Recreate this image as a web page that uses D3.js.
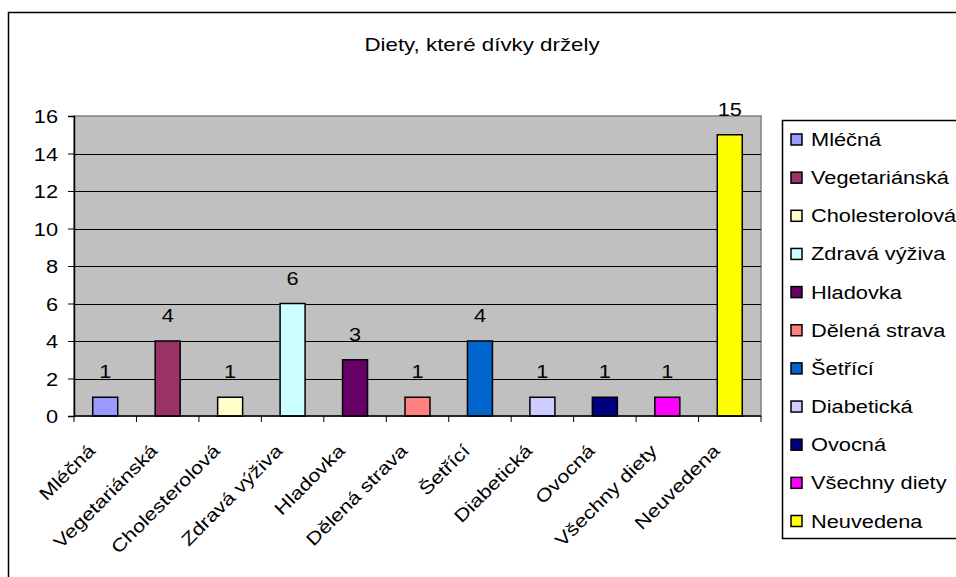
<!doctype html>
<html lang="cs">
<head>
    <meta charset="utf-8">
    <title>Diety</title>
    <script src="https://d3js.org/d3.v7.min.js"></script>
    <style>
        body { margin: 0; background: #fff; }
        text { font-family: "Liberation Sans", Arial, sans-serif; fill: #000; font-size: 18px; }
    </style>
</head>
<body>
<div id="chart"></div>
<script>
    // data
    var categories = ["Mléčná", "Vegetariánská", "Cholesterolová", "Zdravá výživa", "Hladovka",
        "Dělená strava", "Šetřící", "Diabetická", "Ovocná", "Všechny diety", "Neuvedena"];
    var values = [1, 4, 1, 6, 3, 1, 4, 1, 1, 1, 15];
    var colors = ["#9999ff", "#993366", "#ffffcc", "#ccffff", "#660066",
        "#ff8080", "#0066cc", "#ccccff", "#000080", "#ff00ff", "#ffff00"];
    var yTicks = [0, 2, 4, 6, 8, 10, 12, 14, 16];

    var width = 956, height = 577;
    var plot = { left: 74, top: 116, right: 761, bottom: 416 };
    var sx = 1.21; // text in the original is a bit wider than Arial

    var svg = d3.select("#chart").append("svg")
        .attr("width", width)
        .attr("height", height);

    // outer frame (right and bottom edges are outside the window)
    svg.append("rect")
        .attr("x", 8.5).attr("y", 12.5)
        .attr("width", 960).attr("height", 600)
        .attr("fill", "#fff").attr("stroke", "#000").attr("stroke-width", 1.5);

    svg.append("text")
        .attr("transform", "translate(482,51) scale(1.24,1)")
        .attr("text-anchor", "middle")
        .text("Diety, které dívky držely");

    var x = d3.scaleBand()
        .domain(categories)
        .range([plot.left, plot.right])
        .paddingInner(0).paddingOuter(0);

    var y = d3.scaleLinear()
        .domain([0, 16])
        .range([plot.bottom, plot.top]);

    // plot area
    svg.append("rect")
        .attr("x", plot.left).attr("y", plot.top)
        .attr("width", plot.right - plot.left).attr("height", plot.bottom - plot.top)
        .attr("fill", "#c0c0c0").attr("stroke", "#808080").attr("stroke-width", 1.5);

    // gridlines
    svg.append("g")
        .selectAll("line")
        .data(yTicks.filter(function (d) { return d > 0 && d < 16; }))
        .enter().append("line")
        .attr("x1", plot.left).attr("x2", plot.right)
        .attr("y1", function (d) { return Math.round(y(d)) + 0.5; })
        .attr("y2", function (d) { return Math.round(y(d)) + 0.5; })
        .attr("stroke", "#000").attr("stroke-width", 1);

    // bars
    var bw = x.bandwidth() / 2.5;
    svg.append("g")
        .selectAll("rect")
        .data(categories)
        .enter().append("rect")
        .attr("x", function (d) { return x(d) + (x.bandwidth() - bw) / 2; })
        .attr("y", function (d, i) { return y(values[i]); })
        .attr("width", bw)
        .attr("height", function (d, i) { return y(0) - y(values[i]); })
        .attr("fill", function (d, i) { return colors[i]; })
        .attr("stroke", "#000").attr("stroke-width", 1.5);

    // value labels
    svg.append("g")
        .selectAll("text")
        .data(categories)
        .enter().append("text")
        .attr("transform", function (d, i) {
            return "translate(" + (x(d) + x.bandwidth() / 2) + "," + (y(values[i]) - 19) + ") scale(" + sx + ",1)";
        })
        .attr("text-anchor", "middle")
        .text(function (d, i) { return values[i]; });

    // y axis
    var yAxis = svg.append("g")
        .attr("transform", "translate(" + plot.left + ",0)")
        .call(d3.axisLeft(y).tickValues(yTicks).tickSize(6));
    yAxis.select(".domain").attr("stroke", "#000").attr("stroke-width", 1.5);
    yAxis.selectAll(".tick line").attr("stroke", "#000");
    yAxis.selectAll(".tick text")
        .attr("x", null).attr("dy", null)
        .attr("transform", "translate(-16,6.5) scale(" + sx + ",1)")
        .style("font-size", "18px")
        .style("font-family", "Liberation Sans, Arial, sans-serif");

    // x axis: ticks at band boundaries
    var xAxis = svg.append("g")
        .attr("transform", "translate(0," + plot.bottom + ")");
    xAxis.append("line")
        .attr("x1", plot.left).attr("x2", plot.right)
        .attr("stroke", "#000").attr("stroke-width", 1.5);
    xAxis.selectAll(".tk")
        .data(categories.concat(["end"]))
        .enter().append("line")
        .attr("class", "tk")
        .attr("x1", function (d, i) { return plot.left + i * x.bandwidth(); })
        .attr("x2", function (d, i) { return plot.left + i * x.bandwidth(); })
        .attr("y1", 0).attr("y2", 6)
        .attr("stroke", "#000").attr("stroke-width", 1);
    xAxis.selectAll(".lbl")
        .data(categories)
        .enter().append("text")
        .attr("class", "lbl")
        .attr("text-anchor", "end")
        .attr("transform", function (d) {
            return "translate(" + (x(d) + x.bandwidth() / 2 - 9) + ",36) rotate(-45) scale(" + sx + ",1)";
        })
        .text(function (d) { return d; });

    // legend
    var legend = svg.append("g");
    legend.append("rect")
        .attr("x", 782.5).attr("y", 120.5)
        .attr("width", 190).attr("height", 418)
        .attr("fill", "#fff").attr("stroke", "#000").attr("stroke-width", 1.5);

    var ly = d3.scalePoint()
        .domain(categories)
        .range([139.5, 521]);

    var items = legend.selectAll(".item")
        .data(categories)
        .enter().append("g")
        .attr("class", "item")
        .attr("transform", function (d) { return "translate(0," + ly(d) + ")"; });
    items.append("rect")
        .attr("x", 791).attr("y", -5.5)
        .attr("width", 11).attr("height", 11)
        .attr("fill", function (d, i) { return colors[i]; })
        .attr("stroke", "#000").attr("stroke-width", 1.5);
    items.append("text")
        .attr("transform", "translate(811,6.5) scale(" + sx + ",1)")
        .text(function (d) { return d; });
</script>
</body>
</html>
